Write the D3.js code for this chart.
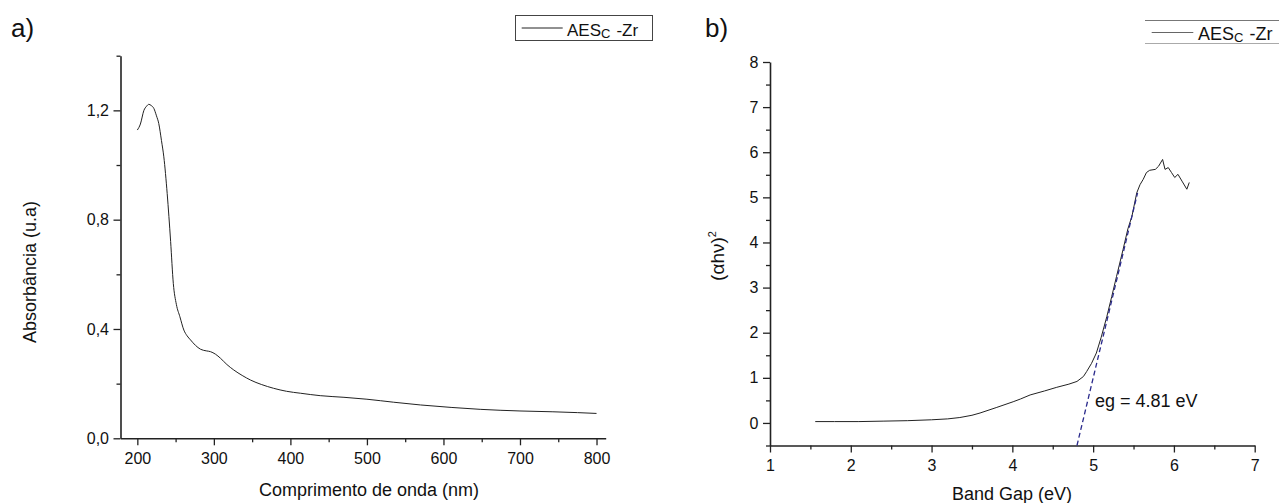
<!DOCTYPE html>
<html>
<head>
<meta charset="utf-8">
<script src="https://cdn.jsdelivr.net/npm/d3@7"></script>
<style>
  html, body { margin: 0; padding: 0; background: #fff; }
  svg { display: block; }
  text { font-family: "Liberation Sans", Arial, sans-serif; fill: #111; }
</style>
</head>
<body>
<svg id="chart" width="1279" height="503"></svg>
<script>
// ---------- DATA ----------
// Panel a: UV-Vis absorbance
const wavelength = [200, 204, 208.6, 212, 215, 218, 221.6, 225, 228, 231.5, 234.6, 239, 243.5, 247, 251, 255.6, 260.8, 265, 269.5, 276, 282.5, 290, 295.6, 302, 308.6, 317, 326, 337, 348, 362, 378, 395, 413, 439, 470, 500, 535, 570, 610, 648, 700, 743, 775, 800];
const absorbance = [1.128, 1.15, 1.20, 1.215, 1.222, 1.218, 1.207, 1.18, 1.152, 1.09, 1.03, 0.896, 0.72, 0.567, 0.49, 0.445, 0.396, 0.375, 0.36, 0.34, 0.326, 0.32, 0.317, 0.308, 0.293, 0.27, 0.25, 0.23, 0.213, 0.197, 0.183, 0.172, 0.165, 0.156, 0.15, 0.143, 0.132, 0.122, 0.113, 0.106, 0.100, 0.097, 0.094, 0.091];
const aXMajor = [200, 300, 400, 500, 600, 700, 800];
const aXMinor = [250, 350, 450, 550, 650, 750];
const aYMajor = [0, 0.4, 0.8, 1.2];
const aYMinor = [0.2, 0.6, 1.0, 1.4];

// Panel b: Tauc plot
const bandGap = [1.56, 1.8, 2.1, 2.4, 2.7, 3.0, 3.2, 3.35, 3.5, 3.6, 3.8, 4.01, 4.1, 4.22, 4.4, 4.55, 4.7, 4.80, 4.88, 4.92, 4.98, 5.04, 5.10, 5.17, 5.23, 5.29, 5.37, 5.43, 5.48, 5.54, 5.58, 5.62, 5.66, 5.70, 5.77, 5.81, 5.86, 5.89, 5.93, 5.97, 6.01, 6.05, 6.10, 6.16, 6.19];
const tauc = [0.03, 0.03, 0.03, 0.04, 0.05, 0.07, 0.09, 0.12, 0.17, 0.22, 0.34, 0.47, 0.53, 0.62, 0.71, 0.79, 0.86, 0.92, 1.03, 1.14, 1.32, 1.55, 1.9, 2.36, 2.8, 3.25, 3.84, 4.3, 4.58, 5.1, 5.28, 5.4, 5.55, 5.6, 5.62, 5.69, 5.84, 5.62, 5.66, 5.55, 5.44, 5.51, 5.36, 5.18, 5.33];
const fitLine = [[4.80, -0.5], [5.55, 5.1]];
const bXMajor = [1, 2, 3, 4, 5, 6, 7];
const bXMinor = [1.5, 2.5, 3.5, 4.5, 5.5, 6.5];
const bYMajor = [0, 1, 2, 3, 4, 5, 6, 7, 8];
const bYMinor = [-0.5, 0.5, 1.5, 2.5, 3.5, 4.5, 5.5, 6.5, 7.5];

const seriesName = "AES";
const seriesSub = "C";
const seriesSuffix = "-Zr";
const egLabel = "eg = 4.81 eV";

// ---------- DRAW ----------
const svg = d3.select("#chart");
const axisColor = "#222";

function drawAxes(g, x, y, xMaj, xMin, yMaj, yMin, fmtX, fmtY) {
  const [y0] = y.range();
  const [x0] = x.range();
  g.append("g").attr("transform", `translate(0,${y0})`)
    .call(d3.axisBottom(x).tickValues(xMaj).tickSize(7).tickSizeOuter(0).tickPadding(7).tickFormat(fmtX));
  g.append("g").attr("transform", `translate(0,${y0})`)
    .call(d3.axisBottom(x).tickValues(xMin).tickSize(4).tickSizeOuter(0).tickFormat(""))
    .select(".domain").remove();
  g.append("g").attr("transform", `translate(${x0},0)`)
    .call(d3.axisLeft(y).tickValues(yMaj).tickSize(7).tickSizeOuter(0).tickPadding(4.5).tickFormat(fmtY));
  g.append("g").attr("transform", `translate(${x0},0)`)
    .call(d3.axisLeft(y).tickValues(yMin).tickSize(4).tickSizeOuter(0).tickFormat(""))
    .select(".domain").remove();
  g.selectAll(".domain").attr("stroke", axisColor).attr("stroke-width", 1.6);
  g.selectAll(".tick line").attr("stroke", axisColor).attr("stroke-width", 1.3);
  g.selectAll(".tick text").attr("font-size", 16).attr("fill", "#111")
    .attr("font-family", '"Liberation Sans", Arial, sans-serif');
}

// Panel a
const xa = d3.scaleLinear().domain([178, 812]).range([120.5, 605.7]);
const ya = d3.scaleLinear().domain([0, 1.4]).range([438.3, 55.7]);
const ga = svg.append("g");
drawAxes(ga, xa, ya, aXMajor, aXMinor, aYMajor, aYMinor, d3.format("d"), d => d3.format(".1f")(d).replace(".", ","));

ga.append("path")
  .datum(wavelength.map((w, i) => [w, absorbance[i]]))
  .attr("fill", "none").attr("stroke", "#222").attr("stroke-width", 1)
  .attr("d", d3.line().x(d => xa(d[0])).y(d => ya(d[1])).curve(d3.curveMonotoneX));

ga.append("text").attr("x", 11).attr("y", 37).attr("font-size", 26).text("a)");
ga.append("text").attr("x", 369).attr("y", 496).attr("text-anchor", "middle").attr("font-size", 18)
  .text("Comprimento de onda (nm)");
ga.append("text").attr("transform", "translate(36,272) rotate(-90)").attr("text-anchor", "middle")
  .attr("font-size", 18).text("Absorbância (u.a)");

// legend a
ga.append("rect").attr("x", 515.5).attr("y", 15.5).attr("width", 137).attr("height", 25)
  .attr("fill", "none").attr("stroke", "#444").attr("stroke-width", 1);
ga.append("line").attr("x1", 521.7).attr("x2", 562.7).attr("y1", 28).attr("y2", 28)
  .attr("stroke", "#222").attr("stroke-width", 1);
const ta = ga.append("text").attr("x", 567).attr("y", 36).attr("font-size", 17);
ta.append("tspan").text(seriesName);
ta.append("tspan").attr("font-size", 13).attr("dy", 2).text(seriesSub);
ta.append("tspan").attr("dx", 6).attr("dy", -2).text(seriesSuffix);

// Panel b
const xb = d3.scaleLinear().domain([1, 7]).range([770, 1254.7]);
const yb = d3.scaleLinear().domain([-0.5, 8]).range([445.5, 62]);
const gb = svg.append("g");
drawAxes(gb, xb, yb, bXMajor, bXMinor, bYMajor, bYMinor, d3.format("d"), d3.format("d"));

gb.append("path")
  .datum(bandGap.map((v, i) => [v, tauc[i]]))
  .attr("fill", "none").attr("stroke", "#222").attr("stroke-width", 1)
  .attr("d", d3.line().x(d => xb(d[0])).y(d => yb(d[1])));

gb.append("path")
  .datum(fitLine)
  .attr("fill", "none").attr("stroke", "#2a2a8c").attr("stroke-width", 1.3).attr("stroke-dasharray", "5,3")
  .attr("d", d3.line().x(d => xb(d[0])).y(d => yb(d[1])));

gb.append("text").attr("x", 1095).attr("y", 406.5).attr("font-size", 18).text(egLabel);

gb.append("text").attr("x", 705).attr("y", 37).attr("font-size", 26).text("b)");
gb.append("text").attr("x", 1012).attr("y", 500).attr("text-anchor", "middle").attr("font-size", 18)
  .text("Band Gap (eV)");
const tyb = gb.append("text").attr("transform", "translate(724,256) rotate(-90)").attr("text-anchor", "middle")
  .attr("font-size", 19).attr("font-family", '"Liberation Serif", "Times New Roman", serif');
tyb.append("tspan").text("(αhν)");
tyb.append("tspan").attr("font-size", 11).attr("dy", -8).text("2");

// legend b
gb.append("line").attr("x1", 1145).attr("x2", 1279).attr("y1", 20.5).attr("y2", 20.5)
  .attr("stroke", "#777").attr("stroke-width", 1);
gb.append("line").attr("x1", 1145).attr("x2", 1279).attr("y1", 43.5).attr("y2", 43.5)
  .attr("stroke", "#aaa").attr("stroke-width", 1);
gb.append("line").attr("x1", 1151.7).attr("x2", 1193.3).attr("y1", 32.5).attr("y2", 32.5)
  .attr("stroke", "#666").attr("stroke-width", 1);
const tb = gb.append("text").attr("x", 1198).attr("y", 39.5).attr("font-size", 18);
tb.append("tspan").text(seriesName);
tb.append("tspan").attr("font-size", 13).attr("dy", 2).text(seriesSub);
tb.append("tspan").attr("dx", 6).attr("dy", -2).text(seriesSuffix);
</script>
</body>
</html>
